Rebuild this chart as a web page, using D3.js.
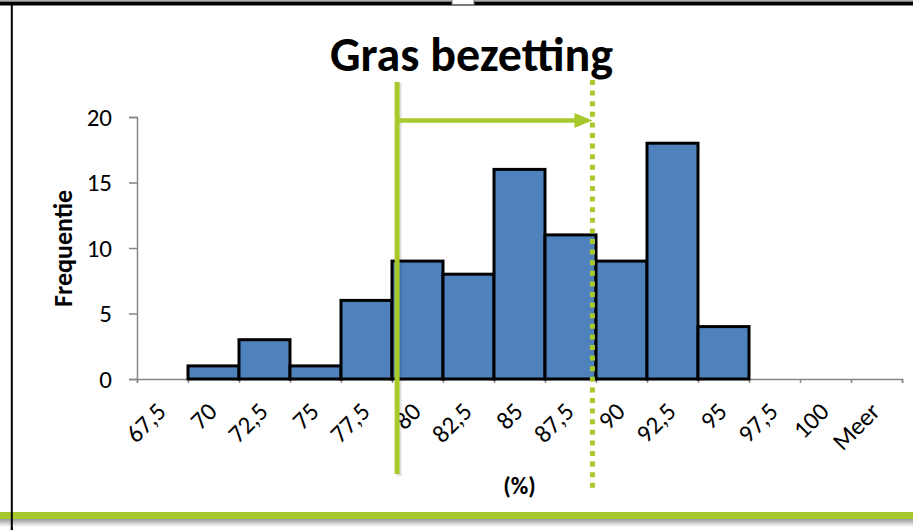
<!DOCTYPE html>
<html>
<head>
<meta charset="utf-8">
<script src="https://cdn.jsdelivr.net/npm/d3@7"></script>
<style>
  html, body { margin: 0; padding: 0; background: #fff; }
  svg { display: block; }
  text { font-family: Carlito, Calibri, Lato, "Open Sans", sans-serif; fill: #000; }
</style>
</head>
<body>
<svg id="chart" width="913" height="530"></svg>
<script>
// ---- data ----
const categories = ["67,5","70","72,5","75","77,5","80","82,5","85","87,5","90","92,5","95","97,5","100","Meer"];
const frequencies = [0, 1, 3, 1, 6, 9, 8, 16, 11, 9, 18, 4, 0, 0, 0];
const yTicks = [0, 5, 10, 15, 20];
const titleText = "Gras bezetting";
const yTitle = "Frequentie";
const xTitle = "(%)";
// annotation markers, in category (bin) units along the x axis
const lowerMarker = [5.1];
const upperMarker = [8.93];

// ---- layout ----
const svg = d3.select("#chart");
const W = 913, H = 530;
const green = "#a8c92c";
const FONT = "Carlito, Calibri, Lato, sans-serif";

const x = d3.scaleBand().domain(categories).range([137, 902]).padding(0);
const xBin = d3.scaleLinear().domain([0, categories.length]).range(x.range());
const y = d3.scaleLinear().domain([0, 20]).range([379, 117]);

// frame: top border, notch, left border
svg.append("rect").attr("x", 0).attr("y", 0).attr("width", W).attr("height", 1.2).attr("fill", "#b0b0b0");
svg.append("rect").attr("x", 0).attr("y", 1.5).attr("width", W).attr("height", 4).attr("fill", "#000");
svg.append("rect").attr("x", 452).attr("y", -1).attr("width", 22).attr("height", 5.5)
  .attr("fill", "#fff").attr("stroke", "#777").attr("stroke-width", 1);
svg.append("rect").attr("x", 10.8).attr("y", 4).attr("width", 2).attr("height", H - 4).attr("fill", "#000");

// title
svg.append("text").attr("x", 471.5).attr("y", 71).attr("text-anchor", "middle")
  .style("font-weight", "bold").style("font-size", "48px").style("font-family", FONT).text(titleText);

// y axis
const yAxis = svg.append("g").attr("transform", `translate(${x.range()[0]},0)`)
  .call(d3.axisLeft(y).tickValues(yTicks).tickSize(8).tickPadding(17));
yAxis.select(".domain").attr("stroke", "#868686").attr("stroke-width", 1.5);
yAxis.selectAll(".tick line").attr("stroke", "#868686").attr("stroke-width", 1.5);
yAxis.selectAll("text").style("font-size", "25px").attr("fill", "#000")
  .style("font-family", FONT);

// x axis boundary ticks
const xTickAxis = svg.append("g").attr("transform", `translate(0,${y(0)})`)
  .call(d3.axisBottom(xBin).tickValues(d3.range(0, categories.length + 1)).tickSize(4).tickFormat(""));
xTickAxis.select(".domain").attr("stroke", "#868686").attr("stroke-width", 1.5);
xTickAxis.selectAll(".tick line").attr("stroke", "#868686").attr("stroke-width", 1.5);

// x labels
const xAxis = svg.append("g").attr("transform", `translate(0,${y(0)})`)
  .call(d3.axisBottom(x).tickSize(0));
xAxis.select(".domain").remove();
xAxis.selectAll("text")
  .attr("text-anchor", "end").attr("dy", null).attr("y", 0)
  .attr("transform", "translate(5,34) rotate(-45)")
  .style("font-size", "25px").attr("fill", "#000")
  .style("font-family", FONT);

// bars
svg.append("g").selectAll("rect")
  .data(categories.map((c, i) => ({ c, v: frequencies[i] })).filter(d => d.v > 0))
  .join("rect")
  .attr("x", d => x(d.c))
  .attr("y", d => y(d.v))
  .attr("width", x.bandwidth())
  .attr("height", d => y(0) - y(d.v))
  .attr("fill", "#4f81bd")
  .attr("stroke", "#000")
  .attr("stroke-width", 3);

// axis titles
svg.append("text").attr("transform", "translate(72,248.5) rotate(-90)")
  .attr("text-anchor", "middle").style("font-weight", "bold").style("font-size", "26px")
  .style("font-family", FONT).text(yTitle);
svg.append("text").attr("x", 519.5).attr("y", 494).attr("text-anchor", "middle")
  .style("font-weight", "bold").style("font-size", "24px").style("font-family", FONT).text(xTitle);

// annotations
const defs = svg.append("defs");
const lowX = xBin(lowerMarker[0]);
const upX = xBin(upperMarker[0]);

svg.append("line").attr("x1", lowX + 2).attr("x2", lowX + 2).attr("y1", 83).attr("y2", 476)
  .attr("stroke", "#000").attr("stroke-opacity", 0.12).attr("stroke-width", 5);
svg.append("line").attr("x1", lowX).attr("x2", lowX).attr("y1", 82).attr("y2", 474)
  .attr("stroke", green).attr("stroke-width", 5);

svg.append("line").attr("x1", upX).attr("x2", upX).attr("y1", 80).attr("y2", 490)
  .attr("stroke", green).attr("stroke-width", 5).attr("stroke-dasharray", "5,5.6");

// arrow
svg.append("line").attr("x1", lowX).attr("x2", upX - 16).attr("y1", 120.5).attr("y2", 120.5)
  .attr("stroke", green).attr("stroke-width", 4.5);
svg.append("path")
  .attr("d", `M${upX - 18},113 L${upX},120.5 L${upX - 18},128 Z`)
  .attr("fill", green);

// bottom green band with shadow
const grad = defs.append("linearGradient").attr("id", "shadow").attr("x1", 0).attr("x2", 0).attr("y1", 0).attr("y2", 1);
grad.append("stop").attr("offset", "0%").attr("stop-color", "#9a9a9a");
grad.append("stop").attr("offset", "100%").attr("stop-color", "#ffffff");
svg.append("rect").attr("x", 0).attr("y", 519).attr("width", W).attr("height", 8).attr("fill", "url(#shadow)");
svg.append("rect").attr("x", 0).attr("y", 512).attr("width", W).attr("height", 7).attr("fill", green);
svg.append("rect").attr("x", 10.8).attr("y", 512).attr("width", 2).attr("height", H - 512).attr("fill", "#000");
</script>
</body>
</html>
